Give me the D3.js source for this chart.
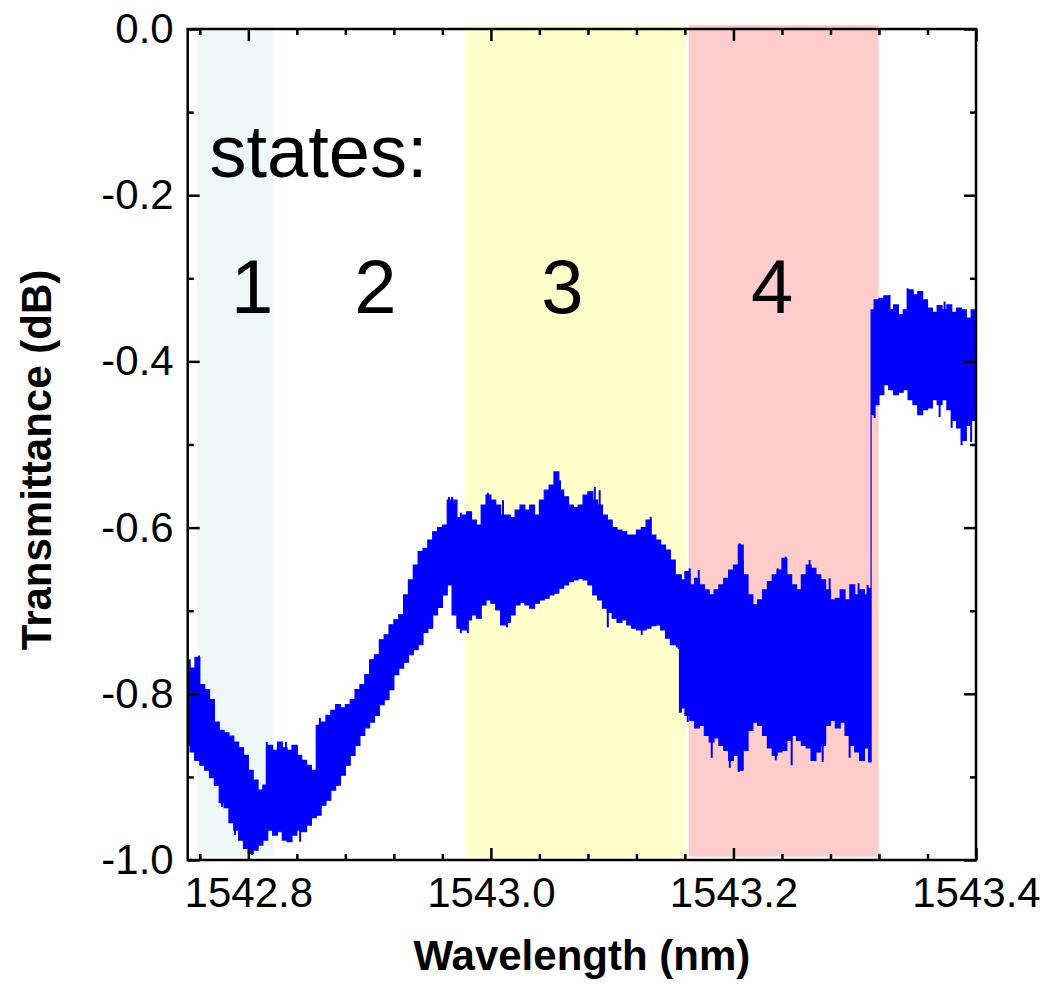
<!DOCTYPE html>
<html><head><meta charset="utf-8">
<script src="https://cdn.jsdelivr.net/npm/d3@7"></script>
<style>body{margin:0;background:#fff}svg{display:block}</style>
</head><body>
<svg id="c" width="1047" height="989"></svg>
<script>
// ---- data ----
const wavelength = [
1542.750,1542.754,1542.758,1542.762,1542.766,1542.770,1542.774,1542.778,1542.782,1542.786,
1542.790,1542.794,1542.798,1542.802,1542.806,1542.810,1542.814,1542.818,1542.822,1542.826,
1542.830,1542.834,1542.838,1542.842,1542.846,1542.850,1542.854,1542.858,1542.862,1542.866,
1542.870,1542.874,1542.878,1542.882,1542.886,1542.890,1542.894,1542.898,1542.902,1542.906,
1542.910,1542.914,1542.918,1542.922,1542.926,1542.930,1542.934,1542.938,1542.942,1542.946,
1542.950,1542.954,1542.958,1542.962,1542.966,1542.970,1542.974,1542.978,1542.982,1542.986,
1542.990,1542.994,1542.998,1543.002,1543.006,1543.010,1543.014,1543.018,1543.022,1543.026,
1543.030,1543.034,1543.038,1543.042,1543.046,1543.050,1543.054,1543.058,1543.062,1543.066,
1543.070,1543.074,1543.078,1543.082,1543.086,1543.090,1543.094,1543.098,1543.102,1543.106,
1543.110,1543.114,1543.118,1543.122,1543.126,1543.130,1543.134,1543.138,1543.142,1543.146,
1543.150,1543.154,1543.155,1543.156,
1543.158,1543.162,1543.166,1543.170,1543.174,1543.178,1543.182,1543.186,
1543.190,1543.194,1543.198,1543.202,1543.206,1543.210,1543.214,1543.218,1543.222,1543.226,
1543.230,1543.234,1543.238,1543.242,1543.246,1543.250,1543.254,1543.258,1543.262,1543.266,
1543.270,1543.274,1543.278,1543.282,1543.286,1543.290,1543.294,1543.298,1543.302,1543.306,
1543.310,1543.313,
1543.314,1543.318,1543.322,1543.326,1543.330,1543.334,1543.338,1543.342,1543.346,
1543.350,1543.354,1543.358,1543.362,1543.366,1543.370,1543.374,1543.378,1543.382,1543.386,
1543.390,1543.394,1543.398,1543.400
];
const upperDb = [
-0.759,-0.769,-0.756,-0.789,-0.795,-0.807,-0.834,-0.844,-0.847,-0.851,
-0.858,-0.865,-0.874,-0.892,-0.904,-0.916,-0.910,-0.862,-0.868,-0.858,
-0.865,-0.868,-0.862,-0.874,-0.880,-0.886,-0.892,-0.838,-0.834,-0.826,
-0.820,-0.813,-0.817,-0.813,-0.807,-0.795,-0.789,-0.777,-0.759,-0.753,
-0.735,-0.729,-0.717,-0.711,-0.705,-0.681,-0.663,-0.645,-0.629,-0.625,
-0.615,-0.605,-0.600,-0.597,-0.567,-0.567,-0.588,-0.585,-0.581,-0.591,
-0.597,-0.573,-0.561,-0.567,-0.573,-0.585,-0.585,-0.588,-0.579,-0.573,
-0.579,-0.573,-0.585,-0.567,-0.555,-0.549,-0.533,-0.555,-0.563,-0.573,
-0.576,-0.573,-0.561,-0.557,-0.567,-0.573,-0.585,-0.591,-0.600,-0.603,
-0.605,-0.609,-0.609,-0.603,-0.600,-0.591,-0.609,-0.615,-0.621,-0.627,
-0.639,-0.657,-0.661,-0.657,
-0.663,-0.653,-0.669,-0.661,-0.669,-0.675,-0.681,-0.675,
-0.669,-0.661,-0.651,-0.645,-0.621,-0.657,-0.681,-0.693,-0.687,-0.675,
-0.665,-0.657,-0.651,-0.637,-0.657,-0.669,-0.675,-0.657,-0.645,-0.649,
-0.657,-0.663,-0.675,-0.687,-0.685,-0.675,-0.687,-0.669,-0.681,-0.675,
-0.681,-0.673,
-0.338,-0.326,-0.324,-0.321,-0.338,-0.332,-0.344,-0.338,-0.314,
-0.320,-0.316,-0.326,-0.336,-0.341,-0.333,-0.338,-0.332,-0.341,-0.336,
-0.338,-0.348,-0.338,-0.344
];
const lowerDb = [
-0.862,-0.870,-0.880,-0.886,-0.892,-0.901,-0.910,-0.931,-0.937,-0.955,
-0.964,-0.976,-0.986,-0.992,-0.988,-0.982,-0.976,-0.964,-0.970,-0.966,
-0.976,-0.978,-0.970,-0.964,-0.966,-0.958,-0.949,-0.946,-0.934,-0.928,
-0.916,-0.910,-0.898,-0.886,-0.874,-0.862,-0.850,-0.841,-0.834,-0.826,
-0.813,-0.807,-0.795,-0.777,-0.769,-0.762,-0.753,-0.747,-0.741,-0.726,
-0.721,-0.705,-0.696,-0.681,-0.669,-0.705,-0.721,-0.723,-0.711,-0.705,
-0.709,-0.693,-0.687,-0.691,-0.699,-0.717,-0.714,-0.705,-0.693,-0.690,
-0.693,-0.697,-0.691,-0.687,-0.685,-0.681,-0.679,-0.673,-0.669,-0.665,
-0.663,-0.661,-0.663,-0.669,-0.681,-0.687,-0.697,-0.702,-0.709,-0.714,
-0.711,-0.717,-0.721,-0.723,-0.723,-0.721,-0.718,-0.717,-0.723,-0.733,
-0.741,-0.741,-0.745,-0.822,
-0.817,-0.826,-0.832,-0.841,-0.838,-0.850,-0.858,-0.853,
-0.862,-0.868,-0.880,-0.874,-0.892,-0.868,-0.844,-0.834,-0.838,-0.850,
-0.865,-0.874,-0.870,-0.868,-0.856,-0.850,-0.856,-0.862,-0.865,-0.880,
-0.870,-0.862,-0.838,-0.832,-0.841,-0.834,-0.850,-0.862,-0.870,-0.880,
-0.865,-0.882,
-0.464,-0.452,-0.440,-0.428,-0.434,-0.440,-0.437,-0.434,-0.446,
-0.452,-0.464,-0.458,-0.456,-0.446,-0.452,-0.446,-0.458,-0.471,-0.480,
-0.495,-0.477,-0.471,-0.464
];
// isolated noise spikes sticking out of the band (wavelength, tip value)
const spikeWl = [
1542.7593,1542.8152,1542.831,1542.840,1542.859,1542.9654,1542.968,1542.9752,1542.9975,1543.010,
1543.0535,1543.057,1543.0857,1543.0897,1543.1318,1543.1639,1543.1714,1543.2052,1543.2077,1543.2365,
1543.2431,1543.2628,1543.2793,1543.3032,1543.3106,1543.3287,1543.3436,1543.3477,1543.3741,
1542.756,1542.7783,1542.789,1542.803,1542.8427,1542.9752,1542.981,1543.0132,1543.0964,1543.1244,
1543.1533,1543.1623,1543.1821,1543.197,1543.2044,1543.2349,1543.248,1543.2736,1543.2958,1543.3123,
1543.3164,1543.370,1543.3799,1543.3881,1543.396
];
const spikeTip = [
-0.754,-0.858,-0.858,-0.862,-0.829,-0.563,-0.563,-0.582,-0.558,-0.567,
-0.533,-0.543,-0.551,-0.555,-0.587,-0.649,-0.651,-0.619,-0.639,-0.649,
-0.635,-0.639,-0.661,-0.667,-0.669,-0.320,-0.312,-0.314,-0.328,
-0.880,-0.936,-0.970,-0.994,-0.978,-0.727,-0.727,-0.720,-0.720,-0.729,
-0.744,-0.834,-0.877,-0.889,-0.894,-0.880,-0.886,-0.882,-0.877,-0.882,
-0.468,-0.467,-0.480,-0.501,-0.497
];
const shadeStart = [1542.7577, 1542.9785, 1543.1631];
const shadeEnd   = [1542.8211, 1543.1612, 1543.3197];
const shadeColors = ["#eff8f8", "#ffffcc", "#ffcccc"];
const shadeTop = 0.005, shadeBottom = -0.996;
const stateLabels = ["1", "2", "3", "4"];
const stateLabelWl = [1542.8032, 1542.9048, 1543.0590, 1543.2319];
const xMajorTicks = [1542.8, 1543.0, 1543.2, 1543.4];
const xMinorTicks = [1542.76, 1542.84, 1542.88, 1542.92, 1542.96, 1543.04, 1543.08, 1543.12, 1543.16, 1543.24, 1543.28, 1543.32, 1543.36];
const yMajorTicks = [0.0, -0.2, -0.4, -0.6, -0.8, -1.0];
const yMinorTicks = [-0.1, -0.3, -0.5, -0.7, -0.9];

// ---- drawing ----
const FONT = "'Liberation Sans', Arial, Helvetica, sans-serif";
const L = 187.7, R = 976, T = 29, B = 860;
const x = d3.scaleLinear().domain([1542.75, 1543.40]).range([L, R]);
const y = d3.scaleLinear().domain([-1.0, 0.0]).range([B, T]);
const svg = d3.select("#c");
svg.append("rect").attr("width", 1047).attr("height", 989).attr("fill", "#fff");

svg.selectAll("rect.shade").data(shadeStart).join("rect").attr("class", "shade")
  .attr("x", d => x(d)).attr("width", (d, i) => x(shadeEnd[i]) - x(d))
  .attr("y", y(shadeTop)).attr("height", y(shadeBottom) - y(shadeTop))
  .attr("fill", (d, i) => shadeColors[i]);

const area = d3.area()
  .curve(d3.curveStep)
  .x(d => x(d))
  .y0((d, i) => y(lowerDb[i]))
  .y1((d, i) => y(upperDb[i]));
svg.append("path").datum(wavelength).attr("d", area)
  .attr("fill", "#0000ff").attr("stroke", "#0000ff").attr("stroke-width", 1.2);

// spikes: thin vertical strokes from the band centre to each tip
const bis = d3.bisector(d => d).left;
function bandMid(w) {
  let i = Math.min(wavelength.length - 1, Math.max(0, bis(wavelength, w)));
  return (upperDb[i] + lowerDb[i]) / 2;
}
svg.selectAll("line.spike").data(spikeWl).join("line").attr("class", "spike")
  .attr("x1", d => x(d)).attr("x2", d => x(d))
  .attr("y1", d => y(bandMid(d))).attr("y2", (d, i) => y(spikeTip[i]))
  .attr("stroke", "#0000ff").attr("stroke-width", 2);

// text annotations
svg.append("text").attr("x", x(1542.768)).attr("y", y(-0.178))
  .attr("font-family", FONT).attr("font-size", 74).attr("fill", "#000").text("states:");
svg.selectAll("text.state").data(stateLabels).join("text").attr("class", "state")
  .attr("x", (d, i) => x(stateLabelWl[i])).attr("y", y(-0.342))
  .attr("text-anchor", "middle").attr("font-family", FONT).attr("font-size", 76)
  .attr("fill", "#000").text(d => d);

// axes
const fmt = d => d.toFixed(1).replace("\u2212", "-");
function styleAxis(g) {
  g.select(".domain").remove();
  g.selectAll(".tick line").attr("stroke", "#000").attr("stroke-width", 2.5);
  g.selectAll(".tick text").attr("font-family", FONT).attr("font-size", 42).attr("fill", "#000");
}
svg.append("g").attr("transform", `translate(0,${B})`)
  .call(d3.axisBottom(x).tickValues(xMajorTicks).tickSize(-12).tickSizeOuter(0).tickPadding(17).tickFormat(fmt)).call(styleAxis);
svg.append("g").attr("transform", `translate(0,${B})`)
  .call(d3.axisBottom(x).tickValues(xMinorTicks).tickSize(-6).tickSizeOuter(0).tickFormat("")).call(styleAxis);
svg.append("g").attr("transform", `translate(0,${T})`)
  .call(d3.axisTop(x).tickValues(xMajorTicks).tickSize(-12).tickSizeOuter(0).tickFormat("")).call(styleAxis);
svg.append("g").attr("transform", `translate(0,${T})`)
  .call(d3.axisTop(x).tickValues(xMinorTicks).tickSize(-6).tickSizeOuter(0).tickFormat("")).call(styleAxis);
svg.append("g").attr("transform", `translate(${L},0)`)
  .call(d3.axisLeft(y).tickValues(yMajorTicks).tickSize(-12).tickSizeOuter(0).tickPadding(14).tickFormat(fmt)).call(styleAxis);
svg.append("g").attr("transform", `translate(${L},0)`)
  .call(d3.axisLeft(y).tickValues(yMinorTicks).tickSize(-6).tickSizeOuter(0).tickFormat("")).call(styleAxis);
svg.append("g").attr("transform", `translate(${R},0)`)
  .call(d3.axisRight(y).tickValues(yMajorTicks).tickSize(-12).tickSizeOuter(0).tickFormat("")).call(styleAxis);
svg.append("g").attr("transform", `translate(${R},0)`)
  .call(d3.axisRight(y).tickValues(yMinorTicks).tickSize(-6).tickSizeOuter(0).tickFormat("")).call(styleAxis);

svg.append("rect").attr("x", L).attr("y", T).attr("width", R - L).attr("height", B - T)
  .attr("fill", "none").attr("stroke", "#000").attr("stroke-width", 2.5);

svg.append("text").attr("x", (L + R) / 2).attr("y", 970).attr("text-anchor", "middle")
  .attr("font-family", FONT).attr("font-weight", "bold").attr("font-size", 42).attr("fill", "#000")
  .text("Wavelength (nm)");
svg.append("text").attr("transform", "translate(51,460) rotate(-90)").attr("text-anchor", "middle")
  .attr("font-family", FONT).attr("font-weight", "bold").attr("font-size", 42).attr("fill", "#000")
  .text("Transmittance (dB)");
</script>
</body></html>
